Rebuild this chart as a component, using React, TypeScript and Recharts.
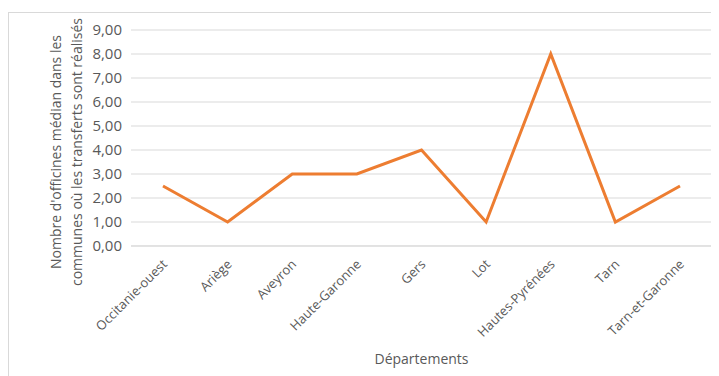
import React from "react";
import { LineChart, Line, XAxis, YAxis, CartesianGrid, Label } from "recharts";

const categories = [
  "Occitanie-ouest",
  "Ariège",
  "Aveyron",
  "Haute-Garonne",
  "Gers",
  "Lot",
  "Hautes-Pyrénées",
  "Tarn",
  "Tarn-et-Garonne",
];
const values = [2.5, 1, 3, 3, 4, 1, 8, 1, 2.5];
const yTicks = [0, 1, 2, 3, 4, 5, 6, 7, 8, 9];
const yLabelLines = [
  "Nombre d'officines médian dans les",
  "communes où les transferts sont réalisés",
];
const xTitle = "Départements";

const data = categories.map((c, i) => ({ name: c, value: values[i] }));

const FONT = "'Open Sans', 'DejaVu Sans', sans-serif";
const TEXT = "#595959";

const XTick = (props: any) => {
  const { x, y, payload } = props;
  return (
    <g transform={`translate(${x + 5},${y + 11})`}>
      <text
        textAnchor="end"
        transform="rotate(-45)"
        fontSize={13}
        fontFamily={FONT}
        fill={TEXT}
      >
        {payload.value}
      </text>
    </g>
  );
};

const YLabel = (props: any) => {
  const { viewBox } = props;
  const cy = viewBox.y + viewBox.height / 2 + 14;
  return (
    <g>
      {yLabelLines.map((t, i) => (
        <text
          key={i}
          x={0}
          y={0}
          transform={`translate(${53 + i * 21},${cy}) rotate(-90)`}
          textAnchor="middle"
          fontSize={14}
          fontFamily={FONT}
          fill={TEXT}
        >
          {t}
        </text>
      ))}
    </g>
  );
};

export default function App() {
  return (
    <div style={{ position: "relative", width: 711, height: 368 }}>
      <div
        style={{
          position: "absolute",
          left: 0,
          top: 4,
          width: 720,
          height: 380,
          borderLeft: "1px solid #d9d9d9",
          borderTop: "1px solid #d9d9d9",
          boxSizing: "border-box",
        }}
      />
      <LineChart
        width={711}
        height={368}
        data={data}
        margin={{ top: 22, right: 7, left: 0, bottom: 0 }}
        style={{ position: "absolute", left: 0, top: 0 }}
      >
        <CartesianGrid vertical={false} stroke="#d9d9d9" strokeWidth={1} />
        <XAxis
          dataKey="name"
          interval={0}
          height={130}
          padding={{ left: 32, right: 32 }}
          tickLine={false}
          axisLine={{ stroke: "#d9d9d9" }}
          tick={<XTick />}
        >
          <Label
            value={xTitle}
            position="insideBottom"
            offset={12}
            fontSize={14}
            fontFamily={FONT}
            fill={TEXT}
          />
        </XAxis>
        <YAxis
          width={123}
          domain={[0, 9]}
          ticks={yTicks}
          interval={0}
          tickLine={false}
          axisLine={false}
          tickSize={0}
          tickMargin={9}
          tickFormatter={(v: number) => v.toFixed(2).replace(".", ",")}
          tick={{ fontSize: 15, fontFamily: FONT, fill: TEXT }}
        >
          <Label content={<YLabel />} />
        </YAxis>
        <Line
          type="linear"
          dataKey="value"
          stroke="#ED7D31"
          strokeWidth={3}
          dot={false}
          isAnimationActive={false}
        />
      </LineChart>
    </div>
  );
}
